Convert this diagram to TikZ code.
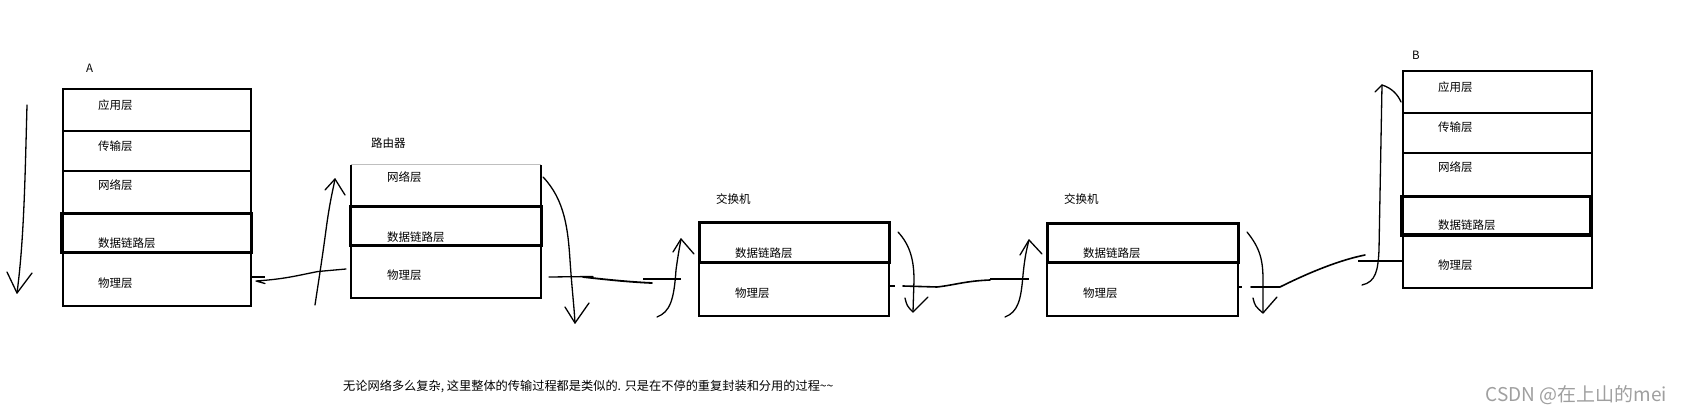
\documentclass[tikz,border=0pt]{standalone}
\usepackage{fontspec}
\setmainfont{Noto Sans CJK SC}
\begin{document}
\begin{tikzpicture}[x=1pt,y=-1pt,
  box/.style={line width=2pt},
  dl/.style={line width=3pt},
  hand/.style={line width=1.3pt, line cap=round, line join=round},
  tick/.style={line width=2pt},
  lbl/.style={anchor=west, inner sep=0pt, font=\fontsize{11.5}{13}\selectfont},
  ttl/.style={anchor=west, inner sep=0pt, font=\fontsize{11.5}{13}\selectfont}]
\useasboundingbox (0,0) rectangle (1681,414);

% ---------- Host A ----------
\draw[box] (63,89) rectangle (251,306);
\draw[box] (63,131) -- (251,131);
\draw[box] (63,171) -- (251,171);
\draw[dl] (61,214) rectangle (251,252);
\node[ttl] (tA) at (86,68) {A};
\node[lbl] (a1) at (98,105) {应用层};
\node[lbl] (a2) at (98,146) {传输层};
\node[lbl] (a3) at (98,185) {网络层};
\node[lbl] (a4) at (98,243) {数据链路层};
\node[lbl] (a5) at (98,283) {物理层};

% ---------- Router ----------
\draw[gray!50, line width=1pt] (351,165) -- (541,165);
\draw[box] (351,165) -- (351,298) -- (541,298) -- (541,165);
\draw[dl] (350,207) rectangle (541,245);
\node[ttl] (tR) at (371,143) {路由器};
\node[lbl] (r1) at (387,177) {网络层};
\node[lbl] (r2) at (387,237) {数据链路层};
\node[lbl] (r3) at (387,275) {物理层};

% ---------- Switch 1 ----------
\draw[box] (699,223) rectangle (889,316);
\draw[dl] (699,223) rectangle (889,262);
\node[ttl] (tS1) at (716,199) {交换机};
\node[lbl] (s11) at (735,253) {数据链路层};
\node[lbl] (s12) at (735,293) {物理层};

% ---------- Switch 2 ----------
\draw[box] (1047,224) rectangle (1238,316);
\draw[dl] (1047,224) rectangle (1238,262);
\node[ttl] (tS2) at (1064,199) {交换机};
\node[lbl] (s21) at (1083,253) {数据链路层};
\node[lbl] (s22) at (1083,293) {物理层};

% ---------- Host B ----------
\draw[box] (1403,71) rectangle (1592,288);
\draw[box] (1403,113) -- (1592,113);
\draw[box] (1403,153) -- (1592,153);
\draw[dl] (1401,197) rectangle (1590,235);
\node[ttl] (tB) at (1412,55) {B};
\node[lbl] (b1) at (1438,87) {应用层};
\node[lbl] (b2) at (1438,127) {传输层};
\node[lbl] (b3) at (1438,167) {网络层};
\node[lbl] (b4) at (1438,225) {数据链路层};
\node[lbl] (b5) at (1438,265) {物理层};

% ---------- hand-drawn strokes ----------
% A down
\draw[hand] (27,105) .. controls (25,180) and (24,240) .. (17,293);
\draw[hand] (7,272) -- (17,293) -- (32,273);
% A <- router
\draw[tick] (252,277) -- (265,277);
\draw[hand] (346,269) -- (318,271.5) .. controls (295,276) and (285,279) .. (256,281) -- (265,283.5);
% router up
\draw[hand] (315,305) .. controls (318,285) and (322,260) .. (326,230) .. controls (330,200) and (333,190) .. (335,179);
\draw[hand] (325,190) -- (335,179) -- (345,195);
% router down
\draw[hand] (543,177) .. controls (565,200) and (568,230) .. (570,260) .. controls (572,290) and (574,305) .. (575,323);
\draw[hand] (565,307) -- (575,323) -- (589,303);
% router -> switch1
\draw[hand] (549,277) -- (593,276.5);
\draw[hand, line width=1.8pt] (583,277) .. controls (610,280) and (630,282) .. (652,283);
\draw[tick] (643,279) -- (681,279);
% switch1 up
\draw[hand] (657,317) .. controls (670,312) and (674,300) .. (676,270) .. controls (678,255) and (680,245) .. (681,239);
\draw[hand] (673,252) -- (681,239) -- (694,254);
% switch1 -> switch2
\draw[tick] (889,286) -- (895,286);
\draw[hand, line width=1.6pt] (903,286) -- (937,287) .. controls (955,285) and (965,281) .. (990,280);
\draw[tick] (990,279) -- (1029,279);
% switch1 down
\draw[hand] (898,232) .. controls (910,245) and (914,260) .. (914,280) -- (913,312);
\draw[hand] (905,298) .. controls (907,306) .. (913,312) -- (928,297);
% switch2 up
\draw[hand] (1005,317) .. controls (1018,312) and (1021,300) .. (1023,275) .. controls (1025,255) and (1027,248) .. (1029,240);
\draw[hand] (1020,255) -- (1029,240) -- (1042,254);
% switch2 -> B
\draw[tick] (1238,287) -- (1242,287);
\draw[hand, line width=1.6pt] (1251,287) -- (1280,287) .. controls (1310,272) and (1340,260) .. (1365,255);
% switch2 down
\draw[hand] (1247,232) .. controls (1260,248) and (1263,260) .. (1263,280) -- (1263,313);
\draw[hand] (1253,298) .. controls (1255,306) .. (1263,313) -- (1277,297);
% B up
\draw[line width=2.5pt] (1358,261) -- (1403,261);
\draw[hand] (1362,285) .. controls (1376,282) and (1378,270) .. (1379,250) -- (1382,85);
\draw[hand] (1375,92) -- (1382,85) .. controls (1392,88) and (1398,95) .. (1401,102);

% ---------- texts ----------
\node[anchor=west, inner sep=0pt, font=\fontsize{12.2}{14}\selectfont] (note) at (343,386) {无论网络多么复杂, 这里整体的传输过程都是类似的. 只是在不停的重复封装和分用的过程\string~\string~};
\node[anchor=east, inner sep=0pt, text=gray!75, font=\fontsize{19}{21}\selectfont] (wm) at (1667,395) {CSDN @在上山的mei};
\end{tikzpicture}
\end{document}
